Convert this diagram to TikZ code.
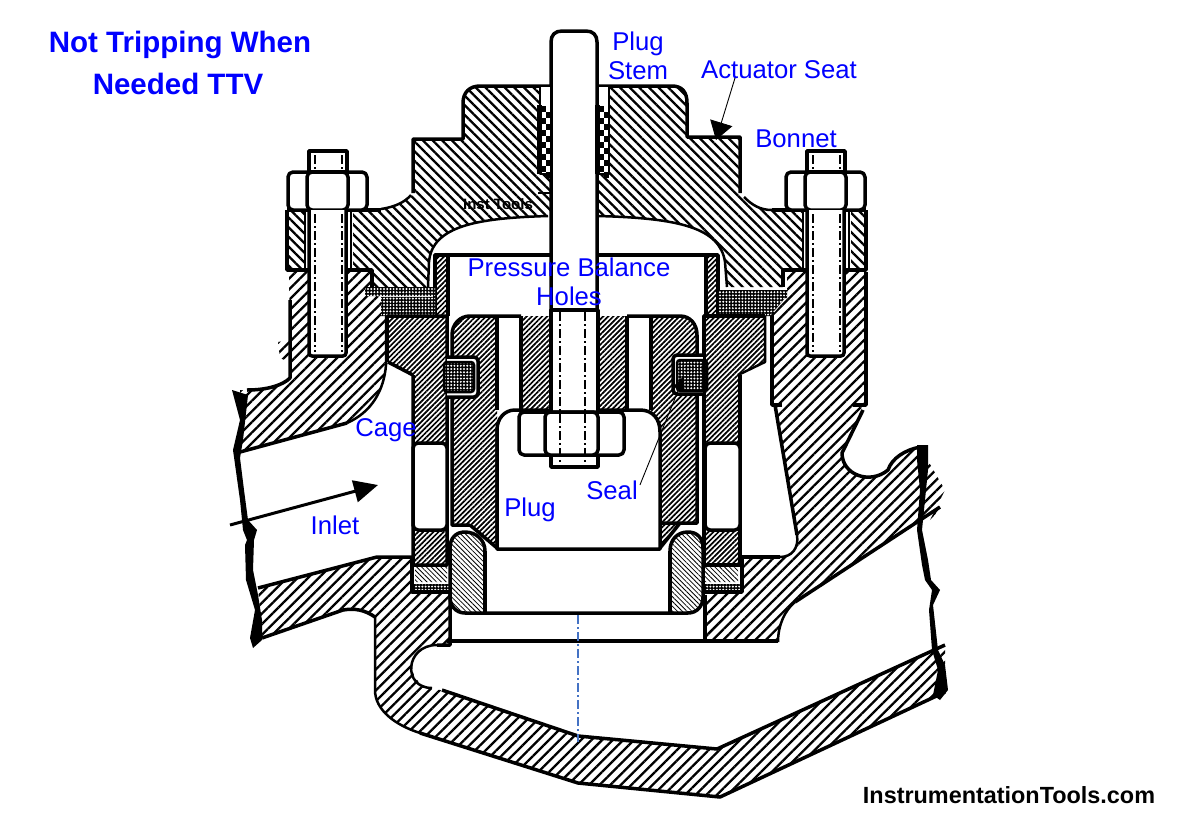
\documentclass[tikz,border=0pt]{standalone}
\usepackage{fontspec}
\setmainfont{Liberation Sans}
\usetikzlibrary{arrows.meta,patterns.meta}

\begin{document}
\begin{tikzpicture}[x=1pt,y=-1pt,line join=round,
   outline/.style={line width=3.5pt},
   thinline/.style={line width=2.5pt},
   bodyhatch/.style={pattern={Lines[angle=45,distance=7.5pt,line width=2.3pt]}},
   bonnethatch/.style={pattern={Lines[angle=-45,distance=6.8pt,line width=2.3pt]}},
   cagehatch/.style={preaction={fill=white},pattern={Lines[angle=45,distance=3.6pt,line width=1.7pt]}},
   seathatch/.style={preaction={fill=white},pattern={Lines[angle=-45,distance=3.4pt,line width=.8pt]}},
   gasket/.style={preaction={fill=black},pattern={Dots[distance=3.2pt,radius=1.1pt]},pattern color=white},
   centerline/.style={line width=1.3pt,dash pattern=on 9pt off 3pt on 2pt off 3pt},
   lbl/.style={text=blue,font=\fontsize{25.7}{26}\selectfont,inner sep=0pt},
   head/.style={text=blue,font=\bfseries\fontsize{29.5}{30}\selectfont,inner sep=0pt}]
   \useasboundingbox (0,0) rectangle (1182,833);

   % body
   \path[bodyhatch] (289,272) -- (372,272) -- (372,295) -- (381,297) -- (386,315) -- (386,365)
      .. controls (384,390) and (372,412) .. (347,423) -- (240,452) -- (240,390) -- (247,390)
      .. controls (268,390) and (283,385) .. (290,375) -- cycle;
   \path[bodyhatch] (278,342) -- (289,340) -- (289,362) -- (280,358) -- cycle;
   \path[bodyhatch] (258,588) -- (377,557) -- (412,557) -- (412,592) -- (450,592) -- (450,645) -- (437,645)
      .. controls (405,645) and (402,688) .. (440,690) -- (578,736) -- (717,749) -- (945,645)
      -- (945,692) -- (720,797) -- (578,783) -- (420,733) .. controls (395,725) and (375,710) .. (375,690)
      -- (375,617) .. controls (365,610) and (355,608) .. (343,610) -- (262,638) -- cycle;
   \path[bodyhatch] (787,272) -- (866,272) -- (866,405) -- (853,405) -- (863,408) -- (842,453)
      .. controls (842,475) and (870,485) .. (888,470) .. controls (892,458) and (905,450) .. (920,447)
      -- (945,490) -- (925,530) -- (940,507) -- (795,602) .. controls (785,610) and (778,625) .. (778,642)
      -- (705,642) -- (705,595) -- (742,592) -- (742,557) -- (780,557)
      .. controls (792,557) and (799,548) .. (797,535) -- (775,405) -- (772,405) -- (772,315) -- (787,298) -- cycle;

   \draw[outline] (290,300) -- (290,378) .. controls (283,385) and (268,390) .. (247,390);
   \draw[outline] (240,452) -- (347,423);
   \draw[thinline] (347,423) .. controls (372,412) and (384,390) .. (386,365) -- (386,315);
   \draw[outline] (258,588) -- (377,557) -- (412,557) -- (412,592) -- (450,592) -- (450,645) -- (437,645);
   \draw[thinline] (437,645) .. controls (405,645) and (402,688) .. (432,688);
   \draw[outline] (442,690) -- (578,736) -- (717,749) -- (945,645);
   \draw[outline] (945,692) -- (720,797) -- (578,783) -- (420,733);
   \draw[thinline] (420,733) .. controls (395,725) and (375,710) .. (375,690) -- (375,617);
   \draw[outline] (262,638) -- (343,610) .. controls (355,608) and (365,610) .. (375,617);
   \draw[outline] (772,300) -- (772,405) -- (782,405);
   \draw[outline] (853,405) -- (866,405) -- (866,272);
   \draw[outline] (775,405) -- (797,535);
   \draw[thinline] (797,535) .. controls (799,548) and (792,557) .. (780,557);
   \draw[outline] (780,557) -- (742,557) -- (742,592);
   \draw[outline] (863,410) -- (842,453) .. controls (842,475) and (870,485) .. (888,470)
      .. controls (892,458) and (905,450) .. (920,447);
   \draw[outline] (940,507) -- (795,602);
   \draw[thinline] (795,602) .. controls (785,610) and (778,625) .. (778,642);
   \draw[outline] (705,595) -- (705,642) (447,641) -- (778,641);

   % break lines
   \fill (232,390) -- (248,395) -- (243,440) -- (240,458) -- (244,490) -- (248,520) -- (257,530) -- (254,540)
      -- (253,570) -- (258,595) -- (262,620) -- (262,640) -- (253,648) -- (250,638) -- (255,610) -- (246,580)
      -- (245,545) -- (247,540) -- (243,530) -- (240,500) -- (233,450) -- (240,420) -- cycle;
   \fill (917,445) -- (928,445) -- (928,470) -- (922,530) -- (928,560) -- (931,580) -- (940,590) -- (933,605)
      -- (938,650) -- (945,665) -- (948,690) -- (940,700) -- (933,695) -- (938,670) -- (932,650) -- (929,610)
      -- (932,590) -- (925,580) -- (922,565) -- (917,530) -- (920,490) -- (917,460) -- cycle;

   % bonnet
   \path[bonnethatch] (480,86) -- (672,86) .. controls (682,86) and (687,92) .. (687,103) -- (687,137)
      -- (740,137) -- (740,195) .. controls (750,205) and (760,210) .. (772,210) -- (866,210) -- (866,270)
      -- (783,270) -- (783,287) -- (727,287) -- (725,262) .. controls (720,228) and (680,218) .. (597,216)
      -- (548,216) .. controls (480,218) and (432,225) .. (429,262) -- (428,287) -- (372,287) -- (372,270)
      -- (287,270) -- (287,210) -- (381,209) .. controls (395,207) and (405,202) .. (413,195) -- (413,139)
      -- (463,139) -- (463,103) .. controls (463,92) and (470,86) .. (480,86) -- cycle;
   \draw[outline] (550,86) -- (480,86) .. controls (470,86) and (463,92) .. (463,103) -- (463,139) -- (413,139) -- (413,193);
   \draw[outline] (597,86) -- (672,86) .. controls (682,86) and (687,92) .. (687,103) -- (687,137) -- (740,137) -- (740,193);
   \draw[thinline] (381,209) .. controls (395,207) and (405,202) .. (411,195);
   \draw[thinline] (744,197) .. controls (752,205) and (760,210) .. (772,210);
   \draw[outline] (287,210) -- (381,210) (772,210) -- (866,210);
   \draw[outline] (287,210) -- (287,270) -- (372,270) -- (372,287);
   \draw[outline] (866,210) -- (866,270) -- (783,270) -- (783,287);
   \draw[thinline] (548,216) .. controls (480,218) and (432,225) .. (429,262) -- (428,287);
   \draw[thinline] (597,216) .. controls (680,218) and (720,228) .. (725,262) -- (727,287);

   % chamber
   \fill[white] (436,255) rectangle (718,316);
   \path[cagehatch] (437,255) rectangle (447,316) (707,255) rectangle (718,316);
   \draw[outline] (435,316) -- (435,255) -- (718,255) -- (718,316);
   \draw[outline] (448,255) -- (448,316) (706,255) -- (706,316);

   % gaskets
   \path[gasket] (365,287) rectangle (435,296) (718,290) rectangle (787,298);
   \path[gasket] (381,297) rectangle (435,316) (718,298) -- (785,298) -- (770,316) -- (718,316) -- cycle;

   % cage
   \path[cagehatch] (387,316) -- (447,316) -- (447,565) -- (413,565) -- (413,375) -- (388,362) -- cycle;
   \path[cagehatch] (704,316) -- (765,316) -- (765,362) -- (738,375) -- (740,565) -- (704,565) -- cycle;
   \draw[outline] (387,316) -- (447,316) -- (447,565) -- (413,565) -- (413,375) (388,362) -- (413,375);
   \draw[outline] (765,316) -- (704,316) -- (704,565) -- (740,565) -- (740,375);
   \draw[thinline] (765,316) -- (765,362) -- (738,375);
   \draw[outline] (387,316) -- (387,362);
   \draw[outline,fill=white,rounded corners=5pt] (413,443) rectangle (447,530);
   \draw[outline,fill=white,rounded corners=5pt] (705,443) rectangle (740,530);
   \path[seathatch] (415,567) rectangle (447,582) (704,567) rectangle (738,582);
   \path[gasket] (413,584) rectangle (450,592) (702,584) rectangle (742,592);
   \draw[outline] (412,557) -- (412,592) -- (450,592) (742,557) -- (742,592) -- (702,592);

   % plug
   \path[cagehatch] (470,316) -- (497,316) -- (497,548) -- (470,525) -- (452,525) -- (452,335)
      .. controls (452,324) and (460,316) .. (470,316) -- cycle;
   \path[cagehatch] (680,316) .. controls (690,316) and (697,324) .. (697,335) -- (697,523) -- (680,523)
      -- (660,548) -- (660,430) -- (651,410) -- (651,316) -- cycle;
   \path[cagehatch] (521,316) rectangle (550,410) (598,316) rectangle (627,410);
   \draw[outline] (497,548) -- (497,430) (470,525) -- (452,525) -- (452,335)
      .. controls (452,324) and (460,316) .. (470,316) -- (521,316);
   \draw[outline] (627,316) -- (680,316) .. controls (690,316) and (697,324) .. (697,335) -- (697,523) -- (659,523);
   \draw[outline] (497,316) -- (497,410) (521,316) -- (521,410) (627,316) -- (627,410) (651,316) -- (651,410);
   \draw[outline] (470,525) -- (497,548);
   \draw[outline] (680,523) -- (660,548);
   \draw[outline,fill=white] (497,549) -- (497,430) .. controls (497,418) and (505,410) .. (515,410) -- (640,410)
      .. controls (652,410) and (660,418) .. (660,432) -- (660,549) -- cycle;

   % seals
   \draw[outline,fill=white,rounded corners=4pt] (447,357) -- (478,357) -- (478,397) -- (447,397);
   \path[gasket,rounded corners=3pt] (444,362) rectangle (474,392);
   \draw[outline,fill=white,rounded corners=4pt] (703,355) -- (673,355) -- (673,394) -- (703,394);
   \path[gasket,rounded corners=3pt] (677,360) rectangle (707,391);
   \draw[thinline,rounded corners=3pt] (444,362) rectangle (474,392) (677,360) rectangle (707,391);
   \draw[thinline] (704,353) -- (704,396);

   % seat ring
   \path[seathatch] (465,532) .. controls (476,532) and (485,540) .. (485,551) -- (485,613) -- (465,613)
      .. controls (456,613) and (450,606) .. (450,597) -- (450,548) .. controls (450,538) and (456,532) .. (465,532) -- cycle;
   \path[seathatch] (688,532) .. controls (697,532) and (703,538) .. (703,548) -- (703,597)
      .. controls (703,606) and (697,613) .. (688,613) -- (670,613) -- (670,551) .. controls (670,540) and (677,532) .. (688,532) -- cycle;
   \draw[outline] (485,551) .. controls (485,540) and (476,532) .. (465,532) .. controls (456,532) and (450,538) .. (450,548)
      -- (450,597) .. controls (450,606) and (456,613) .. (465,613) -- (688,613)
      .. controls (697,613) and (703,606) .. (703,597) -- (703,548) .. controls (703,538) and (697,532) .. (688,532)
      .. controls (677,532) and (670,540) .. (670,551);
   \draw[outline] (485,551) -- (485,613) (670,551) -- (670,613);

   % stem
   \draw[outline,fill=white] (551,310) -- (551,42) .. controls (551,35) and (555,31) .. (562,31) -- (586,31)
      .. controls (593,31) and (597,35) .. (597,42) -- (597,310) -- cycle;
   \draw[outline,fill=white] (551,310) rectangle (598,467);
   \draw[outline,fill=white,rounded corners=5pt] (519,412) rectangle (624,455);
   \draw[outline,fill=white,rounded corners=5pt] (545,412) rectangle (598,455);
   \draw[centerline] (560,312) -- (560,466) (585,312) -- (585,466);
   \draw[centerline,color={rgb,255:red,68;green,114;blue,196}] (578,615) -- (578,742);

   % packing
   \foreach \px in {540,598} {
      \draw[thinline,fill=white] (\px,86) rectangle ++(11,88);
      \foreach \py in {106,118,...,166} {
         \fill (\px,\py) rectangle ++(5.5,6);
         \fill (\px+5.5,\py+6) rectangle ++(5.5,6);
      }
      \draw[line width=5pt] (\px-1,105) -- (\px-1,174);
   }
   \draw[thinline] (538,193) -- (551,193);

   % bolts
   \foreach \bx in {0,498} {
      \begin{scope}[xshift=\bx pt]
         \draw[outline,fill=white] (309,151) rectangle (347,172);
         \draw[centerline,line width=1.6pt] (315,155) -- (315,170) (342,155) -- (342,170);
         \draw[outline,fill=white,rounded corners=5pt] (288,172) rectangle (367,210);
         \draw[outline,fill=white,rounded corners=5pt] (307,172) rectangle (348,210);
         \fill[white] (304,212) rectangle (353,268);
         \draw[outline,fill=white,rounded corners=3pt] (309,210) -- (309,356) -- (346,356) -- (346,210);
         \draw[thinline] (305,212) -- (305,268) (351,212) -- (351,268);
         \draw[centerline,line width=1.6pt] (315,214) -- (315,352) (342,214) -- (342,352);
      \end{scope}
   }

   % labels
   \node[head] (title)  at (180,45) {Not Tripping When};
   \node[head] (title2) at (178,84) {Needed TTV};
   \node[lbl]  (plugtop) at (638,44) {Plug};
   \node[lbl]  (stem)   at (638,71) {Stem};
   \node[lbl]  (act)    at (779,70) {Actuator Seat};
   \node[lbl]  (bonnet) at (796,139) {Bonnet};
   \node[lbl]  (holes1) at (569,267) {Pressure Balance};
   \node[lbl]  (holes2) at (569,296) {Holes};
   \node[lbl]  (cage)   at (386,430) {Cage};
   \node[lbl]  (plug)   at (530,510) {Plug};
   \node[lbl]  (seal)   at (612,490) {Seal};
   \node[lbl]  (inlet)  at (335,525) {Inlet};
   \node[inner sep=0pt,font=\bfseries\fontsize{15}{15}\selectfont] (inst) at (498,204) {Inst Tools};
   \node[inner sep=0pt,font=\bfseries\fontsize{23.4}{24}\selectfont] (site) at (1009,795) {InstrumentationTools.com};

   \coordinate (actfoot) at (735,78);
   \coordinate (acttip)  at (716,140);
   \coordinate (inleta)  at (230,525);
   \coordinate (inletb)  at (378,485);
   \coordinate (sealtip) at (684,376);

   \draw[-{Triangle[length=18pt,width=23pt]},line width=.9pt] (actfoot) -- (acttip);
   \draw[-{Triangle[length=24pt,width=22pt]},line width=3pt] (inleta) -- (inletb);
   \draw[-{Triangle[length=14pt,width=12pt]},line width=.9pt] (seal.east) ++(2,-5) -- (sealtip);
\end{tikzpicture}
\end{document}
